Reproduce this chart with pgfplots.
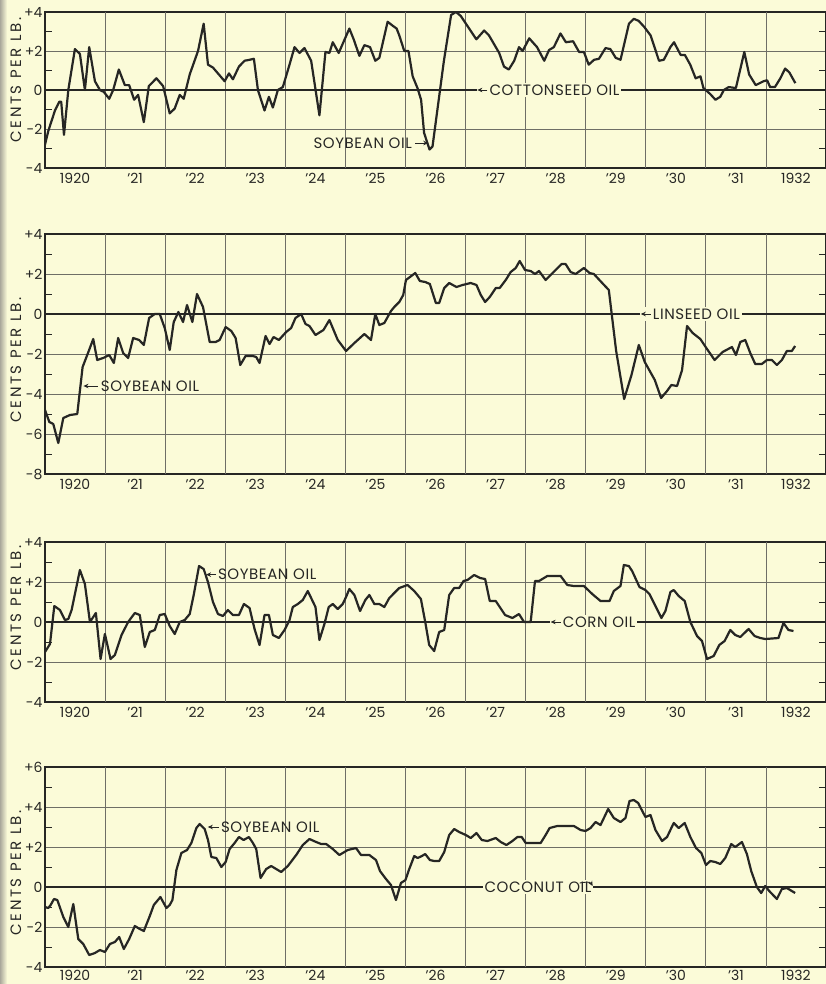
\documentclass[border=0pt]{standalone}
\usepackage{fontspec}
\setmainfont{Poppins}
\usepackage{pgfplots}
\pgfplotsset{compat=1.18}
\usetikzlibrary{arrows.meta}
\definecolor{paper}{RGB}{251,251,216}
\definecolor{ink}{RGB}{38,38,36}
\definecolor{gridc}{RGB}{110,110,102}
\definecolor{stripc}{RGB}{170,168,155}
\newcommand\annot{\fontsize{15}{16}\selectfont\addfontfeatures{LetterSpace=4}}
\newcommand\ylab{\fontsize{15}{16}\selectfont\addfontfeatures{LetterSpace=17}}
\tikzset{labarrow/.style={ink, line width=0.9pt, -{Stealth[length=5pt,width=4.5pt]}}}
\pgfplotsset{
  oilpanel/.style={
    scale only axis, width=781pt, xmin=0, xmax=13,
    axis line style={ink, line width=1.3pt},
    xtick={0.5,1.5,...,12.5},
    xticklabels={1920,'21,'22,'23,'24,'25,'26,'27,'28,'29,'30,'31,1932},
    extra x ticks={1,2,...,12}, extra x tick labels={},
    extra x tick style={grid=major},
    ymajorgrids,
    grid style={gridc, line width=0.8pt},
    tick align=inside,
    major tick length=0pt,
    minor tick length=7pt,
    minor tick style={ink, line width=0.9pt},
    tick label style={font=\fontsize{14}{14}\selectfont, text=ink},
    xticklabel style={yshift=-2pt},
    yticklabel style={xshift=1pt},
  },
  dataline/.style={ink, line width=2.2pt, line join=round, no markers},
}
\begin{document}
\begin{tikzpicture}
\useasboundingbox (0,0) rectangle (826pt,-984pt);
\fill[paper] (0,0) rectangle (826pt,-984pt);
\shade[left color=stripc, right color=paper] (0,0) rectangle (7pt,-984pt);

% ---------- Panel 1: Cottonseed oil ----------
\begin{axis}[oilpanel, at={(45pt,-168pt)}, anchor=south west, height=156pt,
  ymin=-4, ymax=4, ytick={-4,-2,0,2,4}, yticklabels={-4,-2,0,+2,+4}, minor ytick={-3,-1,1,3}]
\draw[ink, line width=1.5pt] (axis cs:0,0) -- (axis cs:13,0);
\addplot[dataline] coordinates {
(0,-2.8) (0.055,-2.1) (0.166,-1.05) (0.238,-0.6) (0.27,-0.6) (0.316,-2.3) (0.388,0)
(0.498,2.1) (0.581,1.85) (0.664,0) (0.736,2.2) (0.831,0.45) (0.914,0) (0.980,-0.1)
(1.069,-0.45) (1.135,0) (1.229,1.05) (1.329,0.25) (1.401,0.25) (1.484,-0.5) (1.550,-0.25)
(1.645,-1.65) (1.728,0.2) (1.855,0.6) (1.966,0.2) (2.076,-1.2) (2.159,-0.95) (2.243,-0.25)
(2.309,-0.45) (2.409,0.8) (2.547,2.0) (2.641,3.4) (2.713,1.3) (2.796,1.15) (2.990,0.45)
(3.062,0.85) (3.128,0.55) (3.228,1.2) (3.322,1.5) (3.405,1.55) (3.477,1.6) (3.544,0)
(3.654,-1.05) (3.727,-0.35) (3.793,-0.9) (3.876,0) (3.959,0.15) (4.070,1.3) (4.153,2.2)
(4.236,1.9) (4.319,2.15) (4.430,1.5) (4.568,-1.3) (4.668,1.95) (4.734,1.9) (4.790,2.45)
(4.889,1.9) (5.066,3.15) (5.138,2.6) (5.233,1.75) (5.316,2.3) (5.410,2.2) (5.498,1.5)
(5.565,1.65) (5.703,3.5) (5.786,3.3) (5.853,3.15) (5.897,2.8) (5.98,2.0) (6.05,2.0)
(6.12,0.7) (6.20,0.1) (6.26,-0.5) (6.31,-2.2) (6.40,-3.05) (6.45,-2.9) (6.53,-1.05)
(6.64,1.5) (6.76,3.85) (6.84,4.0) (6.92,3.8) (7.06,3.15) (7.18,2.6) (7.31,3.05) (7.39,2.8)
(7.56,1.9) (7.64,1.2) (7.72,1.05) (7.81,1.5) (7.89,2.2) (7.95,2.0) (8.06,2.65) (8.19,2.2)
(8.31,1.5) (8.39,2.05) (8.47,2.2) (8.58,2.9) (8.67,2.45) (8.79,2.5) (8.89,1.95) (8.97,1.95)
(9.05,1.3) (9.14,1.55) (9.22,1.6) (9.33,2.15) (9.41,2.1) (9.50,1.65) (9.58,1.55) (9.72,3.4)
(9.80,3.65) (9.88,3.55) (9.97,3.25) (10.08,2.8) (10.22,1.5) (10.30,1.55) (10.41,2.2)
(10.47,2.45) (10.58,1.8) (10.65,1.8) (10.74,1.3) (10.83,0.6) (10.91,0.7) (10.96,0.1)
(11.07,-0.2) (11.16,-0.5) (11.24,-0.35) (11.30,0) (11.38,0.15) (11.50,0.1) (11.64,1.95)
(11.72,0.8) (11.83,0.25) (11.96,0.45) (12.02,0.5) (12.07,0.15) (12.15,0.15) (12.24,0.6)
(12.32,1.1) (12.39,0.9) (12.49,0.35)
};
\node[anchor=west, inner sep=1pt, font=\annot, text=ink] (s1) at (axis cs:4.45,-2.72) {SOYBEAN OIL};
\draw[labarrow] ([xshift=2pt]s1.east) -- (axis cs:6.38,-2.72);
\node[anchor=west, fill=paper, inner sep=2pt, font=\annot, text=ink] (c1) at (axis cs:7.18,0) {\hspace{11pt}COTTONSEED OIL};
\draw[labarrow] ([xshift=11pt]c1.west) -- ([xshift=1pt]c1.west);
\end{axis}

% ---------- Panel 2: Linseed oil ----------
\begin{axis}[oilpanel, at={(45pt,-474pt)}, anchor=south west, height=240pt,
  ymin=-8, ymax=4, ytick={-8,-6,-4,-2,0,2,4}, yticklabels={-8,-6,-4,-2,0,+2,+4}, minor ytick={-7,-5,-3,-1,1,3}]
\draw[ink, line width=1.5pt] (axis cs:0,0) -- (axis cs:13,0);
\addplot[dataline] coordinates {
(0,-4.8) (0.072,-5.4) (0.138,-5.5) (0.221,-6.45) (0.305,-5.2) (0.415,-5.05) (0.537,-5.0)
(0.626,-2.65) (0.703,-2.05) (0.803,-1.25) (0.869,-2.3) (0.969,-2.2) (1.069,-2.05) (1.146,-2.45)
(1.218,-1.2) (1.301,-1.95) (1.384,-2.2) (1.467,-1.2) (1.567,-1.3) (1.645,-1.55) (1.733,-0.2)
(1.827,0) (1.910,0) (1.993,-0.7) (2.076,-1.8) (2.143,-0.4) (2.220,0.1) (2.298,-0.4) (2.364,0.45)
(2.453,-0.4) (2.530,1.0) (2.630,0.35) (2.741,-1.4) (2.841,-1.4) (2.907,-1.3) (3.007,-0.65)
(3.101,-0.85) (3.173,-1.2) (3.250,-2.55) (3.339,-2.1) (3.461,-2.1) (3.516,-2.15) (3.571,-2.45)
(3.671,-1.1) (3.738,-1.5) (3.804,-1.15) (3.893,-1.3) (4.014,-0.9) (4.097,-0.7) (4.169,-0.2)
(4.264,0) (4.336,-0.5) (4.402,-0.6) (4.502,-1.05) (4.635,-0.8) (4.734,-0.3) (4.873,-1.3)
(5.011,-1.85) (5.150,-1.45) (5.316,-1.0) (5.426,-1.3) (5.498,0) (5.565,-0.55) (5.648,-0.45)
(5.759,0.15) (5.814,0.35) (5.897,0.6) (5.963,0.95) (6.008,1.7) (6.163,2.05) (6.240,1.65)
(6.329,1.6) (6.406,1.5) (6.506,0.55) (6.561,0.55) (6.645,1.3) (6.728,1.55) (6.849,1.35)
(6.949,1.45) (7.087,1.55) (7.182,1.45) (7.254,0.95) (7.326,0.6) (7.403,0.85) (7.503,1.3)
(7.569,1.3) (7.669,1.7) (7.752,2.1) (7.835,2.3) (7.901,2.65) (7.990,2.2) (8.084,2.15)
(8.156,2.0) (8.223,2.15) (8.333,1.7) (8.416,1.95) (8.499,2.2) (8.599,2.5) (8.665,2.5)
(8.749,2.1) (8.832,2.0) (8.970,2.3) (9.064,2.05) (9.136,2.0) (9.275,1.55) (9.385,1.2)
(9.507,-1.85) (9.640,-4.25) (9.762,-3.05) (9.884,-1.55) (9.983,-2.4) (10.150,-3.3)
(10.255,-4.2) (10.354,-3.85) (10.426,-3.55) (10.521,-3.6) (10.604,-2.8) (10.687,-0.6)
(10.781,-0.95) (10.908,-1.25) (11.019,-1.75) (11.146,-2.3) (11.279,-1.9) (11.434,-1.65)
(11.501,-2.05) (11.573,-1.4) (11.656,-1.3) (11.739,-1.95) (11.822,-2.5) (11.932,-2.5)
(12.016,-2.3) (12.099,-2.3) (12.182,-2.55) (12.265,-2.3) (12.348,-1.85) (12.431,-1.85)
(12.486,-1.6)
};
\node[anchor=west, inner sep=1pt, font=\annot, text=ink] (s2) at (axis cs:0.91,-3.6) {SOYBEAN OIL};
\draw[labarrow] ([xshift=-2pt]s2.west) -- (axis cs:0.64,-3.6);
\node[anchor=west, fill=paper, inner sep=2pt, font=\annot, text=ink] (c2) at (axis cs:9.9,0) {\hspace{11pt}LINSEED OIL};
\draw[labarrow] ([xshift=11pt]c2.west) -- ([xshift=1pt]c2.west);
\end{axis}

% ---------- Panel 3: Corn oil ----------
\begin{axis}[oilpanel, at={(45pt,-702pt)}, anchor=south west, height=160pt,
  ymin=-4, ymax=4, ytick={-4,-2,0,2,4}, yticklabels={-4,-2,0,+2,+4}, minor ytick={-3,-1,1,3}]
\draw[ink, line width=1.5pt] (axis cs:0,0) -- (axis cs:13,0);
\addplot[dataline] coordinates {
(0,-1.5) (0.083,-1.1) (0.155,0.8) (0.249,0.6) (0.332,0.1) (0.388,0.15) (0.443,0.6) (0.581,2.6)
(0.664,1.9) (0.748,0) (0.847,0.45) (0.925,-1.85) (0.997,-0.6) (1.091,-1.85) (1.163,-1.65)
(1.274,-0.65) (1.384,0) (1.495,0.45) (1.578,0.35) (1.661,-1.25) (1.744,-0.5) (1.827,-0.4)
(1.910,0.35) (1.993,0.4) (2.076,-0.2) (2.159,-0.6) (2.243,0) (2.326,0.1) (2.409,0.4)
(2.475,1.35) (2.564,2.8) (2.641,2.65) (2.713,2.0) (2.796,1.0) (2.879,0.4) (2.962,0.3)
(3.045,0.6) (3.128,0.35) (3.228,0.35) (3.311,0.9) (3.405,0.7) (3.488,-0.35) (3.571,-1.15)
(3.654,0.35) (3.727,0.35) (3.793,-0.65) (3.893,-0.8) (3.987,-0.4) (4.070,0.1) (4.125,0.75)
(4.208,0.9) (4.291,1.1) (4.374,1.55) (4.430,1.2) (4.502,0.75) (4.568,-0.9) (4.651,-0.1)
(4.723,0.75) (4.790,0.9) (4.873,0.65) (4.956,0.9) (5.011,1.25) (5.066,1.65) (5.150,1.35)
(5.244,0.55) (5.332,1.1) (5.399,1.35) (5.482,0.9) (5.565,0.9) (5.648,0.75) (5.731,1.2)
(5.897,1.7) (6.035,1.85) (6.146,1.55) (6.257,1.15) (6.329,0) (6.395,-1.15) (6.478,-1.45)
(6.561,-0.5) (6.645,-0.4) (6.728,1.35) (6.811,1.7) (6.894,1.7) (6.966,2.05) (7.032,2.1)
(7.143,2.35) (7.243,2.2) (7.326,2.15) (7.403,1.05) (7.503,1.05) (7.658,0.35) (7.780,0.2)
(7.890,0.4) (7.973,0) (8.084,0) (8.156,2.05) (8.223,2.05) (8.361,2.3) (8.583,2.3) (8.693,1.85)
(8.804,1.8) (8.970,1.8) (9.109,1.4) (9.247,1.05) (9.397,1.05) (9.468,1.55) (9.579,1.8)
(9.635,2.85) (9.718,2.8) (9.773,2.55) (9.895,1.75) (9.994,1.6) (10.061,1.4) (10.161,0.8)
(10.260,0.2) (10.327,0.55) (10.410,1.5) (10.465,1.6) (10.548,1.3) (10.648,1.05) (10.742,0)
(10.853,-0.7) (10.936,-0.95) (11.019,-1.85) (11.130,-1.7) (11.224,-1.15) (11.312,-0.95)
(11.406,-0.4) (11.489,-0.65) (11.573,-0.75) (11.711,-0.35) (11.811,-0.7) (11.905,-0.8)
(11.988,-0.85) (12.209,-0.8) (12.292,-0.05) (12.375,-0.4) (12.458,-0.45)
};
\node[anchor=west, inner sep=1pt, font=\annot, text=ink] (s3) at (axis cs:2.86,2.37) {SOYBEAN OIL};
\draw[labarrow] ([xshift=-1pt]s3.west) -- (axis cs:2.68,2.37);
\node[anchor=west, fill=paper, inner sep=2pt, font=\annot, text=ink] (c3) at (axis cs:8.4,0) {\hspace{11pt}CORN OIL};
\draw[labarrow] ([xshift=11pt]c3.west) -- ([xshift=1pt]c3.west);
\end{axis}

% ---------- Panel 4: Coconut oil ----------
\begin{axis}[oilpanel, at={(45pt,-967pt)}, anchor=south west, height=200pt,
  ymin=-4, ymax=6, ytick={-4,-2,0,2,4,6}, yticklabels={-4,-2,0,+2,+4,+6}, minor ytick={-3,-1,1,3,5},
  xticklabel style={yshift=2.5pt}]
\draw[ink, line width=1.5pt] (axis cs:0,0) -- (axis cs:13,0);
\addplot[dataline] coordinates {
(0,-1.0) (0.055,-1.05) (0.094,-0.9) (0.150,-0.6) (0.205,-0.65) (0.305,-1.5) (0.388,-2.0)
(0.471,-0.85) (0.554,-2.6) (0.637,-2.85) (0.736,-3.4) (0.831,-3.3) (0.914,-3.15) (0.997,-3.25)
(1.080,-2.85) (1.163,-2.75) (1.235,-2.5) (1.312,-3.1) (1.401,-2.6) (1.495,-1.95) (1.578,-2.1)
(1.645,-2.2) (1.744,-1.45) (1.811,-0.9) (1.921,-0.5) (2.021,-1.05) (2.076,-0.9) (2.121,-0.65)
(2.187,0.85) (2.270,1.7) (2.364,1.85) (2.436,2.2) (2.519,2.95) (2.575,3.15) (2.658,2.9)
(2.713,2.35) (2.769,1.5) (2.852,1.45) (2.935,1.0) (3.007,1.25) (3.073,1.9) (3.156,2.2)
(3.228,2.5) (3.306,2.35) (3.394,2.5) (3.461,2.2) (3.516,1.9) (3.588,0.45) (3.682,0.9)
(3.765,1.05) (3.848,0.9) (3.931,0.75) (4.042,1.05) (4.181,1.6) (4.291,2.1) (4.402,2.4)
(4.513,2.25) (4.596,2.15) (4.679,2.15) (4.790,1.9) (4.900,1.6) (5.039,1.85) (5.177,1.95)
(5.260,1.6) (5.399,1.6) (5.509,1.35) (5.576,0.8) (5.676,0.4) (5.759,0.1) (5.842,-0.65)
(5.925,0.2) (6.0,0.35) (6.063,0.9) (6.146,1.55) (6.202,1.45) (6.274,1.55) (6.329,1.65)
(6.406,1.35) (6.478,1.3) (6.561,1.3) (6.645,1.75) (6.728,2.6) (6.811,2.9) (6.894,2.75)
(7.005,2.6) (7.087,2.45) (7.182,2.7) (7.270,2.35) (7.364,2.3) (7.503,2.45) (7.586,2.25)
(7.680,2.1) (7.780,2.3) (7.863,2.5) (7.935,2.5) (8.001,2.2) (8.112,2.2) (8.250,2.2)
(8.333,2.6) (8.400,2.95) (8.527,3.05) (8.665,3.05) (8.804,3.05) (8.915,2.85) (8.998,2.8)
(9.081,2.95) (9.164,3.25) (9.247,3.1) (9.374,3.9) (9.468,3.45) (9.579,3.25) (9.662,3.45)
(9.729,4.3) (9.801,4.35) (9.873,4.2) (9.994,3.5) (10.078,3.6) (10.161,2.85) (10.271,2.3)
(10.354,2.5) (10.465,3.2) (10.548,2.95) (10.648,3.2) (10.742,2.5) (10.836,1.95) (10.925,1.7)
(11.002,1.1) (11.074,1.3) (11.157,1.25) (11.240,1.15) (11.323,1.45) (11.423,2.15) (11.489,2.0)
(11.600,2.25) (11.683,1.65) (11.755,0.8) (11.849,0) (11.921,-0.3) (11.988,0.05) (12.055,-0.2)
(12.182,-0.6) (12.265,-0.1) (12.348,-0.05) (12.486,-0.3)
};
\node[anchor=west, inner sep=1pt, font=\annot, text=ink] (s4) at (axis cs:2.91,3.0) {SOYBEAN OIL};
\draw[labarrow] ([xshift=-1pt]s4.west) -- (axis cs:2.71,3.0);
\node[anchor=west, fill=paper, inner sep=2pt, font=\annot, text=ink] (c4) at (axis cs:7.28,0) {COCONUT OIL\hspace{14pt}};
\draw[labarrow] ([xshift=-14pt,yshift=4pt]c4.east) to[out=10,in=120] ([xshift=-1pt,yshift=1pt]c4.east);
\end{axis}

% y-axis titles
\node[rotate=90, font=\ylab, text=ink] at (16pt,-80pt) {CENTS PER LB.};
\node[rotate=90, font=\ylab, text=ink] at (16pt,-360pt) {CENTS PER LB.};
\node[rotate=90, font=\ylab, text=ink] at (16pt,-608pt) {CENTS PER LB.};
\node[rotate=90, font=\ylab, text=ink] at (16pt,-873pt) {CENTS PER LB.};
\end{tikzpicture}
\end{document}
